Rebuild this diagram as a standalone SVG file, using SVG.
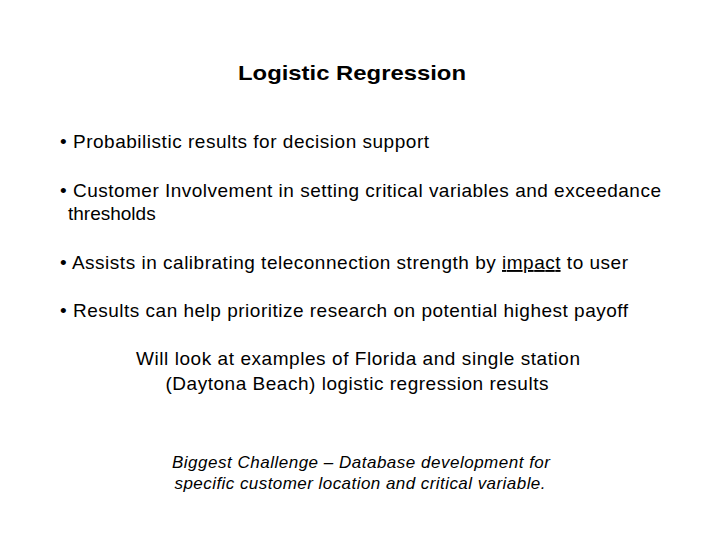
<svg xmlns="http://www.w3.org/2000/svg" width="720" height="540" viewBox="0 0 720 540">
<style>
text{font-family:"Liberation Sans",Arial,sans-serif;fill:#000}
.b{font-size:19px}
.c{font-size:19px;text-anchor:middle}
.i{font-size:17px;font-style:italic;text-anchor:middle}
</style>
<rect width="720" height="540" fill="#fff"/>
<text x="352" y="80" font-size="21" font-weight="bold" text-anchor="middle" textLength="228" lengthAdjust="spacingAndGlyphs">Logistic Regression</text>
<text class="b" x="60" y="148" textLength="369">• Probabilistic results for decision support</text>
<text class="b" x="60" y="197" textLength="601">• Customer Involvement in setting critical variables and exceedance</text>
<text class="b" x="68" y="220" font-size="20">thresholds</text>
<text class="b" x="60" y="269" textLength="568">• Assists in calibrating teleconnection strength by <tspan text-decoration="underline">impact</tspan> to user</text>
<text class="b" x="60" y="317" textLength="568">• Results can help prioritize research on potential highest payoff</text>
<text class="c" x="358" y="365" textLength="444">Will look at  examples of Florida and single station</text>
<text class="c" x="357" y="390" textLength="383">(Daytona Beach) logistic regression results</text>
<text class="i" x="361" y="468" textLength="378">Biggest Challenge – Database development for</text>
<text class="i" x="360" y="489" textLength="371">specific customer location and critical variable.</text>
</svg>
